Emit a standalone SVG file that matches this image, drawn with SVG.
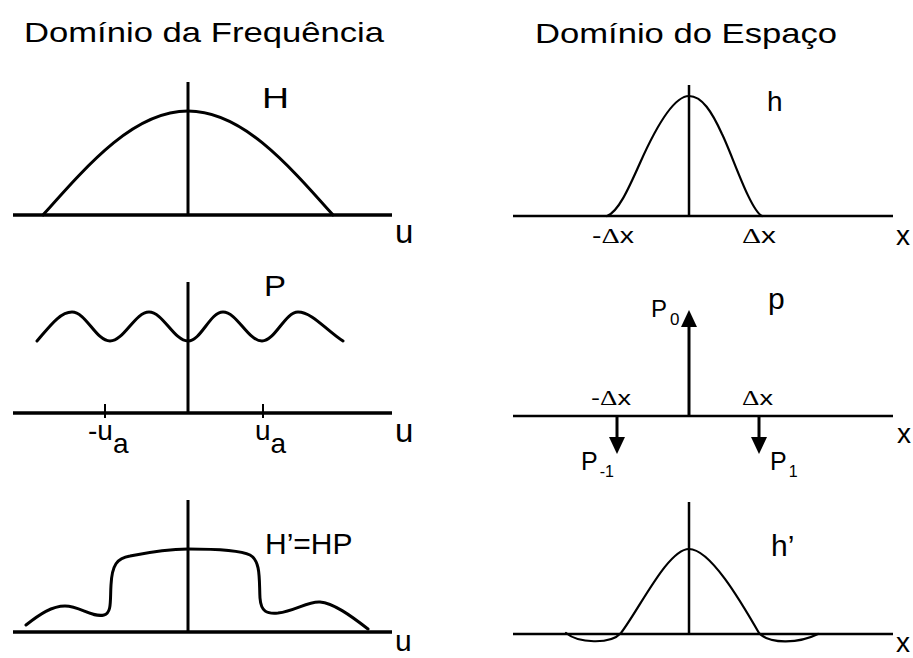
<svg xmlns="http://www.w3.org/2000/svg" width="913" height="658" viewBox="0 0 913 658">
<defs>
<style>
text { font-family: "Liberation Sans", Arial, sans-serif; fill: #000; }
.title { font-size: 28px; }
.sym { font-family: "Liberation Serif", "Times New Roman", serif; }
.axL { stroke: #000; stroke-width: 3.5; fill: none; }
.vL { stroke: #000; stroke-width: 3; fill: none; }
.cL { stroke: #000; stroke-width: 3; fill: none; stroke-linejoin: round; stroke-linecap: round; }
.axR { stroke: #000; stroke-width: 2.5; fill: none; }
.vR { stroke: #000; stroke-width: 2.5; fill: none; }
.cR { stroke: #000; stroke-width: 2.2; fill: none; stroke-linecap: round; }
.tk { stroke: #000; stroke-width: 2; }
.imp { stroke: #000; stroke-width: 3; fill: none; marker-end: url(#ah); }
</style>
<marker id="ah" markerUnits="userSpaceOnUse" markerWidth="17" markerHeight="16" refX="0" refY="8" orient="auto">
<path d="M0,0 L17,8 L0,16 z" fill="#000"/>
</marker>
</defs>
<rect width="913" height="658" fill="#fff"/>

<g id="titles">
<text class="title" x="24" y="42" textLength="360" lengthAdjust="spacingAndGlyphs">Domínio da Frequência</text>
<text class="title" x="535" y="43" textLength="302" lengthAdjust="spacingAndGlyphs">Domínio do Espaço</text>
</g>

<g id="panel-H">
<line class="axL" x1="13" y1="215" x2="392" y2="215"/>
<line class="vL" x1="188" y1="82" x2="188" y2="215"/>
<path class="cL" d="M43,215 C90,162 135,111 188,111 C241,111 286,162 333,215"/>
<text x="262" y="108" font-size="29" textLength="27" lengthAdjust="spacingAndGlyphs">H</text>
<text x="395" y="243" font-size="33">u</text>
</g>

<g id="panel-P">
<line class="axL" x1="13" y1="413" x2="392" y2="413"/>
<line class="vL" x1="188" y1="282" x2="188" y2="413"/>
<line class="tk" x1="105" y1="404" x2="105" y2="418"/>
<line class="tk" x1="263" y1="404" x2="263" y2="418"/>
<path class="cL" d="M37,341 C50,326 60,312 72,312 C86,312 96,341 110,341 C124,341 135,312 149,312 C163,312 174,341 188,341 C201,341 210,312 223,312 C237,312 248,341 262,341 C275,341 285,312 298,312 C312,312 326,330 343,341"/>
<text x="264" y="296" font-size="29" textLength="22" lengthAdjust="spacingAndGlyphs">P</text>
<text x="88" y="440" font-size="28">-u<tspan dy="13">a</tspan></text>
<text x="255" y="440" font-size="28">u<tspan dy="13">a</tspan></text>
<text x="395" y="442" font-size="33">u</text>
</g>

<g id="panel-HP">
<line class="axL" x1="13" y1="632" x2="392" y2="632"/>
<line class="vL" x1="188" y1="500" x2="188" y2="632"/>
<path class="cL" d="M26,625 C40,614 52,606 65,606 C80,606 92,618 104,615 C112,613 110,600 111,585 C112,565 117,558 130,556 C150,552 170,549 188,549 C215,549 240,550 250,555 C261,561 259,580 260,598 C261,612 267,614 278,613 C295,611 308,601 320,602 C333,603 350,615 368,629"/>
<text x="265" y="554" font-size="30">H’=HP</text>
<text x="395" y="651" font-size="30">u</text>
</g>

<g id="panel-h">
<line class="axR" x1="513" y1="216" x2="893" y2="216"/>
<line class="vR" x1="689" y1="85" x2="689" y2="216"/>
<path class="cR" d="M607,216 C618,212 628,190 640,163 C652,136 672,96 689,96 C702,96 712,112 722,134 C732,154 750,210 762,216"/>
<text x="767" y="111" font-size="28">h</text>
<text x="592" y="243" font-size="22" textLength="42" lengthAdjust="spacingAndGlyphs">-<tspan class="sym">Δ</tspan>x</text>
<text x="742" y="243" font-size="22" textLength="34" lengthAdjust="spacingAndGlyphs"><tspan class="sym">Δ</tspan>x</text>
<text x="896" y="245" font-size="28">x</text>
</g>

<g id="panel-p">
<line class="axR" x1="513" y1="416" x2="893" y2="416"/>
<text x="651" y="317" font-size="24">P<tspan font-size="17" dy="8" dx="3">0</tspan></text>
<text x="768" y="309" font-size="30">p</text>
<text x="591" y="405" font-size="20" textLength="40" lengthAdjust="spacingAndGlyphs">-<tspan class="sym">Δ</tspan>x</text>
<text x="742" y="405" font-size="20" textLength="31" lengthAdjust="spacingAndGlyphs"><tspan class="sym">Δ</tspan>x</text>
<text x="897" y="443" font-size="28">x</text>
<text x="581" y="470" font-size="25">P<tspan font-size="16" dy="7" dx="2">-1</tspan></text>
<text x="770" y="470" font-size="25">P<tspan font-size="16" dy="7" dx="2">1</tspan></text>
</g>

<g id="impulses">
<line class="imp" x1="689" y1="416" x2="689" y2="327"/>
<line class="imp" x1="617" y1="416" x2="617" y2="437"/>
<line class="imp" x1="759" y1="416" x2="759" y2="437"/>
</g>

<g id="panel-h2">
<line class="axR" x1="513" y1="634" x2="893" y2="634"/>
<line class="vR" x1="689" y1="502" x2="689" y2="634"/>
<path class="cR" d="M566,633 C578,643 610,645 621,633 C640,608 668,549 689,549 C710,549 740,600 759,633 C770,645 800,643 818,634"/>
<text x="771" y="556" font-size="30">h’</text>
<text x="896" y="652" font-size="28">x</text>
</g>
</svg>
